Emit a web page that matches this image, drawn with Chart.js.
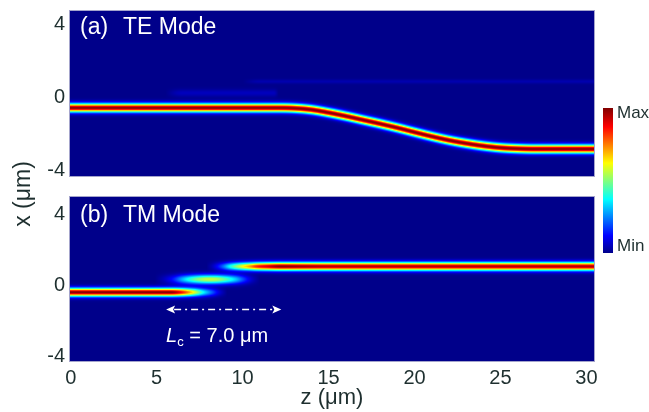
<!DOCTYPE html>
<html>
<head>
<meta charset="utf-8">
<script src="https://cdn.jsdelivr.net/npm/chart.js@4.4.1/dist/chart.umd.min.js"></script>
<style>
  html, body { margin:0; padding:0; background:#fff; width:649px; height:412px; overflow:hidden; }
  body { position:relative; font-family:"Liberation Sans", Arial, sans-serif; color:#1e2f2f; }
  canvas { position:absolute; left:0; }
  #cvA { top:0; }
  #cvB { top:186px; }
  #ytitle { position:absolute; left:-30px; top:181px; width:104px; height:26px; line-height:26px;
            text-align:center; font-size:23px; transform:rotate(-90deg); white-space:nowrap; }
  #cbar { position:absolute; left:603px; top:108px; width:10px; height:145px;
          background:linear-gradient(to top, rgb(0,0,138) 0%, rgb(0,0,255) 12%, rgb(0,255,255) 37%,
                     rgb(255,255,0) 62%, rgb(255,0,0) 87%, rgb(128,0,0) 100%); }
  .cbl { position:absolute; left:617px; font-size:17px; line-height:20px; }
</style>
</head>
<body>
<canvas id="cvA" width="649" height="186"></canvas>
<canvas id="cvB" width="649" height="226"></canvas>
<div id="ytitle">x (μm)</div>
<div id="cbar"></div>
<div class="cbl" style="top:103px">Max</div>
<div class="cbl" style="top:236px">Min</div>
<script>
// ---------------- data ----------------
const zTicks = [0, 5, 10, 15, 20, 25, 30];
const xTicks = [-4, 0, 4];

// (a) TE mode – beam centre x (μm) and relative peak intensity along z (μm)
const teMainZ = [-0.1, 12, 13, 14, 15, 16, 17, 18, 19, 20, 21, 22, 23, 24, 25, 26, 27, 30.5];
const teMainX = [-0.56, -0.56, -0.58, -0.66, -0.82, -1.01, -1.22, -1.43, -1.65, -1.89, -2.12, -2.33, -2.50, -2.64, -2.74, -2.79, -2.81, -2.81];
const teMainI = [1, 1, 1, 1, 1, 1, 1, 1, 1, 1, 1, 1, 1, 1, 1, 1, 1, 1];
const teLeakZ = [5.5, 6.5, 9.0, 11.8, 12.1];
const teLeakX = [0.25, 0.25, 0.25, 0.25, 0.25];
const teLeakI = [0, 0.05, 0.05, 0.05, 0];
const teFaintZ = [10.0, 11.0, 30.5];
const teFaintX = [0.88, 0.88, 0.88];
const teFaintI = [0, 0.035, 0.035];

// (b) TM mode
const tmLowZ = [-0.1, 5.8, 6.5, 6.9, 7.2, 7.7, 8.25, 8.65, 9.1];
const tmLowX = [-0.39, -0.39, -0.39, -0.39, -0.39, -0.39, -0.39, -0.39, -0.39];
const tmLowI = [1, 1, 0.86, 0.72, 0.6, 0.38, 0.2, 0.08, 0];
const tmMidZ = [4.9, 5.5, 6.0, 6.5, 7.1, 7.7, 8.1, 8.5, 9.05, 9.6, 10.0, 10.5, 11.0];
const tmMidX = [0.34, 0.34, 0.34, 0.34, 0.34, 0.34, 0.34, 0.34, 0.34, 0.34, 0.34, 0.34, 0.34];
const tmMidI = [0, 0.06, 0.15, 0.3, 0.45, 0.55, 0.57, 0.55, 0.45, 0.32, 0.2, 0.07, 0];
const tmUpZ = [7.9, 8.3, 8.85, 9.25, 9.6, 10.0, 10.4, 10.8, 11.5, 12.2, 13.5, 15, 30.5];
const tmUpX = [1.07, 1.07, 1.07, 1.07, 1.07, 1.07, 1.07, 1.07, 1.07, 1.07, 1.07, 1.07, 1.07];
const tmUpI = [0, 0.06, 0.22, 0.38, 0.5, 0.62, 0.72, 0.84, 0.93, 1.0, 0.98, 0.96, 0.96];

// ---------------- styling ----------------
const beamWidth = { core: 0.23, leak: 0.2, faint: 0.12, blob: 0.26 }; // 1/e half-width, μm
const TXT = '#1e2f2f';
const FONT = '"Liberation Sans", Arial, sans-serif';

function track(z, x, i, w) { return { z, x, i, w }; }
const teTracks = [
  track(teMainZ, teMainX, teMainI, beamWidth.core),
  track(teLeakZ, teLeakX, teLeakI, beamWidth.leak),
  track(teFaintZ, teFaintX, teFaintI, beamWidth.faint)
];
const tmTracks = [
  track(tmLowZ, tmLowX, tmLowI, beamWidth.core),
  track(tmMidZ, tmMidX, tmMidI, beamWidth.blob),
  track(tmUpZ, tmUpX, tmUpI, beamWidth.core)
];

// monotone cubic (Fritsch–Carlson) through the read points
function makeInterp(xs, ys, outside) {
  const n = xs.length, d = [], m = new Array(n);
  for (let k = 0; k < n - 1; k++) d.push((ys[k + 1] - ys[k]) / (xs[k + 1] - xs[k]));
  m[0] = d[0]; m[n - 1] = d[n - 2];
  for (let k = 1; k < n - 1; k++) m[k] = (d[k - 1] * d[k] <= 0) ? 0 : (d[k - 1] + d[k]) / 2;
  for (let k = 0; k < n - 1; k++) {
    if (d[k] === 0) { m[k] = 0; m[k + 1] = 0; continue; }
    const a = m[k] / d[k], b = m[k + 1] / d[k], s = a * a + b * b;
    if (s > 9) { const t = 3 / Math.sqrt(s); m[k] = t * a * d[k]; m[k + 1] = t * b * d[k]; }
  }
  return function (x) {
    if (x < xs[0]) return outside === undefined ? ys[0] : outside;
    if (x > xs[n - 1]) return outside === undefined ? ys[n - 1] : outside;
    let k = 0; while (k < n - 2 && x > xs[k + 1]) k++;
    const h = xs[k + 1] - xs[k], t = (x - xs[k]) / h, t2 = t * t, t3 = t2 * t;
    return (2 * t3 - 3 * t2 + 1) * ys[k] + (t3 - 2 * t2 + t) * h * m[k] +
           (-2 * t3 + 3 * t2) * ys[k + 1] + (t3 - t2) * h * m[k + 1];
  };
}

function jet(v) {
  v = 0.01 + 0.98 * Math.max(0, Math.min(1, v));
  const c = t => Math.max(0, Math.min(1, t)) * 255;
  return [c(1.5 - Math.abs(4 * v - 3)), c(1.5 - Math.abs(4 * v - 2)), c(1.5 - Math.abs(4 * v - 1))];
}

// field-map plugin: paints every beam of the datasets through the chart's scales
const fieldPlugin = {
  id: 'field',
  beforeDatasetsDraw(chart) {
    const tracks = chart.options.plugins.field.tracks;
    const { left, top, right, bottom } = chart.chartArea;
    const xs = chart.scales.x, ys = chart.scales.y;
    const W = Math.round(right - left), H = Math.round(bottom - top);
    const off = document.createElement('canvas'); off.width = W; off.height = H;
    const octx = off.getContext('2d');
    const img = octx.createImageData(W, H);
    const fx = tracks.map(t => makeInterp(t.z, t.x));
    const fi = tracks.map(t => makeInterp(t.z, t.i, 0));
    const rows = [];
    for (let j = 0; j < H; j++) rows.push(ys.getValueForPixel(top + j + 0.5));
    for (let i = 0; i < W; i++) {
      const z = xs.getValueForPixel(left + i + 0.5);
      const cs = tracks.map((t, k) => fx[k](z));
      const ps = tracks.map((t, k) => Math.max(0, fi[k](z)));
      for (let j = 0; j < H; j++) {
        let v = 0;
        for (let k = 0; k < tracks.length; k++) {
          if (ps[k] <= 0) continue;
          const u = (rows[j] - cs[k]) / tracks[k].w;
          v += ps[k] * Math.exp(-u * u);
        }
        const col = jet(v), p = (j * W + i) * 4;
        img.data[p] = col[0]; img.data[p + 1] = col[1]; img.data[p + 2] = col[2]; img.data[p + 3] = 255;
      }
    }
    octx.putImageData(img, 0, 0);
    chart.ctx.drawImage(off, left, top);
  },
  afterDraw(chart) {
    const ctx = chart.ctx, a = chart.chartArea, o = chart.options.plugins.field;
    ctx.save();
    ctx.strokeStyle = '#a4a4cc'; ctx.lineWidth = 1;
    ctx.strokeRect(a.left + 0.5, a.top + 0.5, a.right - a.left - 1, a.bottom - a.top - 1);
    ctx.fillStyle = '#ffffff';
    ctx.font = '23px ' + FONT;
    ctx.textBaseline = 'alphabetic';
    ctx.fillText(o.tag, a.left + 11, a.top + o.labelDy);
    ctx.fillText(o.name, a.left + 54, a.top + o.labelDy);
    if (o.lc) {
      const xs = chart.scales.x, ys = chart.scales.y;
      const x0 = xs.getPixelForValue(o.lc.z0), x1 = xs.getPixelForValue(o.lc.z1);
      const y = Math.round(ys.getPixelForValue(o.lc.x)) + 0.5;
      ctx.strokeStyle = '#ffffff'; ctx.lineWidth = 1.5;
      ctx.setLineDash([7, 4, 2, 4]);
      ctx.beginPath(); ctx.moveTo(x0 + 8, y); ctx.lineTo(x1 - 8, y); ctx.stroke();
      ctx.setLineDash([]);
      ctx.beginPath(); ctx.moveTo(x0, y); ctx.lineTo(x0 + 9, y - 4); ctx.lineTo(x0 + 7, y); ctx.lineTo(x0 + 9, y + 4); ctx.closePath(); ctx.fill();
      ctx.beginPath(); ctx.moveTo(x1, y); ctx.lineTo(x1 - 9, y - 4); ctx.lineTo(x1 - 7, y); ctx.lineTo(x1 - 9, y + 4); ctx.closePath(); ctx.fill();
      const ty = ys.getPixelForValue(o.lc.textX);
      let tx = xs.getPixelForValue(o.lc.textZ);
      ctx.font = 'italic 20px ' + FONT;
      ctx.fillText('L', tx, ty); tx += ctx.measureText('L').width;
      ctx.font = '13px ' + FONT;
      ctx.fillText('c', tx, ty + 4); tx += ctx.measureText('c').width;
      ctx.font = '20px ' + FONT;
      ctx.fillText(' = 7.0 μm', tx, ty);
    }
    ctx.restore();
  }
};

function makePanel(id, tracks, yMin, yMax, showX, opts) {
  const tickFont = { family: FONT, size: 20 };
  return new Chart(document.getElementById(id), {
    type: 'line',
    data: {
      datasets: tracks.map(t => ({
        data: t.z.map((z, k) => ({ x: z, y: t.x[k] })),
        showLine: false, pointRadius: 0, borderWidth: 0
      }))
    },
    options: {
      responsive: false, animation: false, events: [],
      layout: { padding: { left: 0, right: 54, top: 10, bottom: showX ? 0 : 9 } },
      plugins: { legend: { display: false }, tooltip: { enabled: false },
                 field: Object.assign({ tracks }, opts) },
      scales: {
        x: {
          type: 'linear', min: -0.1, max: 30.5, display: showX,
          afterBuildTicks: s => { s.ticks = zTicks.map(v => ({ value: v })); },
          ticks: { font: tickFont, color: TXT, padding: 4, maxRotation: 0, autoSkip: false },
          grid: { display: false, drawTicks: false }, border: { display: false },
          title: { display: showX, text: 'z (μm)', color: TXT, font: { family: FONT, size: 22 }, padding: { top: 0, bottom: 1 } },
          afterFit: s => { s.height = showX ? 50 : 0; s.paddingLeft = 0; s.paddingRight = 0; }
        },
        y: {
          type: 'linear', min: yMin, max: yMax,
          afterBuildTicks: s => { s.ticks = xTicks.map(v => ({ value: v })); },
          ticks: { font: tickFont, color: TXT, padding: 4, autoSkip: false },
          grid: { display: false, drawTicks: false }, border: { display: false },
          afterFit: s => { s.width = 69; s.paddingTop = 0; s.paddingBottom = 0; }
        }
      }
    },
    plugins: [fieldPlugin]
  });
}

makePanel('cvA', teTracks, -4.34, 4.79, false, { tag: '(a)', name: 'TE Mode', labelDy: 24 });
makePanel('cvB', tmTracks, -4.33, 5.05, true, {
  tag: '(b)', name: 'TM Mode', labelDy: 26,
  lc: { z0: 5.55, z1: 12.25, x: -1.35, textZ: 5.55, textX: -3.2 }
});
</script>
</body>
</html>
